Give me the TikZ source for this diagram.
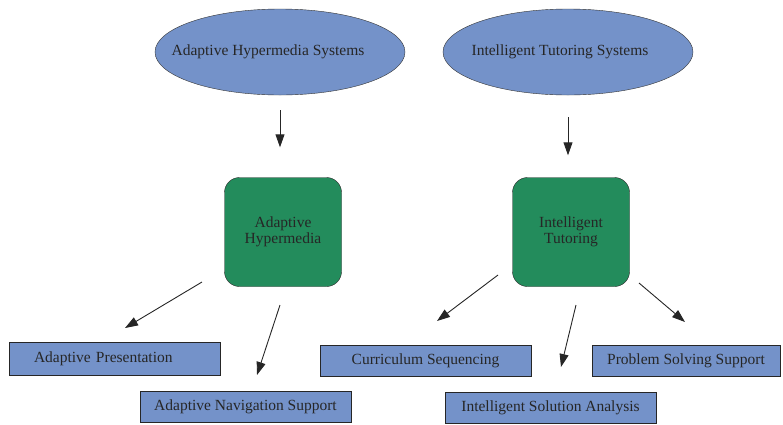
\documentclass[tikz,border=0pt]{standalone}
\usepackage{fontspec}
\setmainfont{Liberation Serif}
\usetikzlibrary{arrows.meta}
\usetikzlibrary{shapes}
\usetikzlibrary{positioning}

\definecolor{skyblue}{RGB}{116,146,201}
\definecolor{leafgreen}{RGB}{35,140,92}

\tikzset{
	field/.style={ellipse, draw=black!80, fill=skyblue, minimum width=250, minimum height=86, inner sep=0pt},
	area/.style={rounded corners=15, draw=black!85, fill=leafgreen, minimum width=117, minimum height=109, align=center},
	topic/.style={draw=black!85, fill=skyblue, minimum width=211, minimum height=31, inner sep=0pt},
	link/.style={-{Triangle[length=13,width=9]}, line width=0.9pt, black!85}
}

\begin{document}
\begin{tikzpicture}[x=1pt, y=-1pt, font=\fontsize{15.5}{16}\selectfont, text=black!85]
		\useasboundingbox (0,0) rectangle (783,424);
		
		\node[field] (ahs) at (280,52) {\makebox[0pt]{Adaptive Hypermedia Systems\hspace{24pt}}};
		\node[field] (its) at (568,52) {\makebox[0pt]{Intelligent Tutoring Systems\hspace{16pt}}};
		\node[area] (ah) at (283,232) {Adaptive\\Hypermedia};
		\node[area] (it) at (571,232) {Intelligent\\Tutoring};
		
		\node[topic, minimum height=33, text width=161, inner xsep=25, align=left] (ap) at (114.5,358.5) {Adaptive Presentation};
		\node[topic] (ans) at (245.5,407) {Adaptive Navigation Support};
		\node[topic] (cs) at (425.5,360.5) {Curriculum Sequencing};
		\node[topic] (isa) at (550.5,408) {Intelligent Solution Analysis};
		\node[topic, minimum width=188] (pss) at (686,360.5) {Problem Solving Support};
		
		% loose arrow ends
		\coordinate (ah-l) at (202,282);
		\coordinate (ap-in) at (125,328);
		\coordinate (ah-r) at (280,305);
		\coordinate (ans-in) at (257,375);
		\coordinate (it-l) at (498,275);
		\coordinate (cs-in) at (437,321);
		\coordinate (it-m) at (576,305);
		\coordinate (isa-in) at (561,367);
		\coordinate (it-r) at (639,283);
		\coordinate (pss-in) at (685,322);
		
		\draw[link, shorten <=15, shorten >=30] (ahs.south) -- (ahs.south |- ah.north);
		\draw[link, shorten <=22, shorten >=22] (its.south) -- (its.south |- it.north);
		\draw[link] (ah-l) -- (ap-in);
		\draw[link] (ah-r) -- (ans-in);
		\draw[link] (it-l) -- (cs-in);
		\draw[link] (it-m) -- (isa-in);
		\draw[link] (it-r) -- (pss-in);
\end{tikzpicture}
\end{document}
